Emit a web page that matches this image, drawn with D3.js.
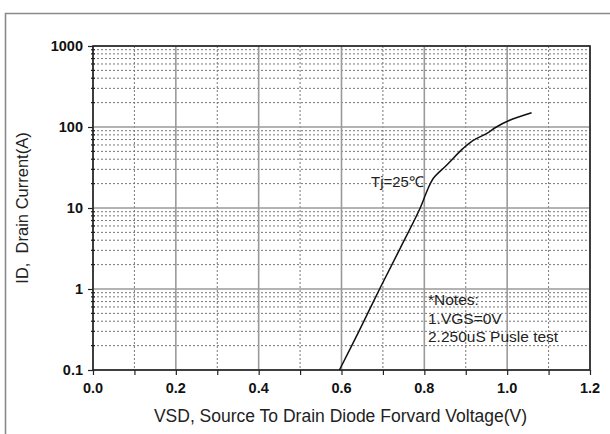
<!DOCTYPE html>
<html>
<head>
<meta charset="utf-8">
<script src="https://cdnjs.cloudflare.com/ajax/libs/d3/7.8.5/d3.min.js"></script>
<style>
	body { margin: 0; background: #fff; }
	svg { display: block; font-family: "Liberation Sans", Arial, sans-serif; }
	.major { stroke: #9a9a9a; stroke-width: 1.6; }
	.minor { stroke: #777; stroke-width: 1; stroke-dasharray: 2,2; }
	.tick { stroke: #222; stroke-width: 1.2; }
	.lbl { font-size: 14.5px; font-weight: bold; fill: #111; }
	.txt { fill: #222; white-space: pre; }
</style>
</head>
<body>
<svg id="chart" width="610" height="434"></svg>
<script>
"use strict";

/* global d3 */

// Diode forward curve, Tj = 25C
var vsd = [0.595, 0.642, 0.692, 0.742, 0.79, 0.806, 0.821, 0.853, 0.893, 0.917, 0.95, 0.974, 1.006, 1.059];
var idA = [0.1, 0.3, 1, 3.2, 10, 16, 23, 33.5, 54, 68, 83, 100, 121, 150];

var xTicks = [0, 0.2, 0.4, 0.6, 0.8, 1.0, 1.2];
var xMinor = [0.1, 0.3, 0.5, 0.7, 0.9, 1.1];
var yTicks = [0.1, 1, 10, 100, 1000];
var yTickText = ["0.1", "1", "10", "100", "1000"];

var xTitle = "VSD, Source To Drain Diode Forvard Voltage(V)";
var yTitle = "ID,  Drain Current(A)";
var curveLabel = "Tj=25\u2103";
var notes = ["*Notes:", "1.VGS=0V", "2.250uS Pusle test"];

// Plot box
var box = {l: 93, r: 590, t: 46, b: 370};

var svg = d3.select('#chart');

var x = d3.scaleLinear().domain([0, 1.2]).range([box.l, box.r]);
var y = d3.scaleLog().domain([0.1, 1000]).range([box.b, box.t]);

// minor log positions 2..9 of each decade
var yMinor = [];
yTicks.slice(0, -1).forEach(function(d) {
	for (var k = 2; k < 10; k++) yMinor.push(d * k);
});

// outer frame of the figure
svg.append('path').attr('d', 'M5.5,434 V13.5 H610').
	attr('fill', 'none').attr('stroke', '#8a8a8a').attr('stroke-width', 1.6);

var grid = svg.append('g');

grid.selectAll('.hmin').data(yMinor).enter().append('line').attr('class', 'minor').
	attr('x1', box.l).attr('x2', box.r).attr('y1', function(d) { return y(d); }).attr('y2', function(d) { return y(d); });

grid.selectAll('.vmin').data(xMinor).enter().append('line').attr('class', 'minor').
	attr('y1', box.t).attr('y2', box.b).attr('x1', function(d) { return x(d); }).attr('x2', function(d) { return x(d); });

grid.selectAll('.hmaj').data(yTicks).enter().append('line').attr('class', 'major').
	attr('x1', box.l).attr('x2', box.r).attr('y1', function(d) { return y(d); }).attr('y2', function(d) { return y(d); });

grid.selectAll('.vmaj').data(xTicks).enter().append('line').attr('class', 'major').
	attr('y1', box.t).attr('y2', box.b).attr('x1', function(d) { return x(d); }).attr('x2', function(d) { return x(d); });

// axes: ticks only, the labels are placed by hand below
var xAxis = d3.axisBottom(x).tickValues(xTicks.concat(xMinor)).tickSize(5).tickFormat('');
svg.append('g').attr('transform', 'translate(0,' + box.b + ')').call(xAxis).
	call(function(g) { g.select('.domain').remove(); g.selectAll('line').attr('class', 'tick'); });

var yAxis = d3.axisLeft(y).tickValues(yTicks).tickSize(5).tickFormat('');
svg.append('g').attr('transform', 'translate(' + box.l + ',0)').call(yAxis).
	call(function(g) { g.select('.domain').remove(); g.selectAll('line').attr('class', 'tick'); });

svg.append('g').selectAll('line').data(yMinor).enter().append('line').attr('class', 'tick').
	attr('x1', box.l - 2).attr('x2', box.l + 2).attr('y1', function(d) { return y(d); }).attr('y2', function(d) { return y(d); });

// plot border
svg.append('rect').attr('x', box.l).attr('y', box.t).attr('width', box.r - box.l).attr('height', box.b - box.t).
	attr('fill', 'none').attr('stroke', '#222').attr('stroke-width', 1.6);

// tick labels
svg.append('g').selectAll('text').data(xTicks).enter().append('text').attr('class', 'lbl').
	attr('x', function(d) { return x(d); }).attr('y', box.b + 23).attr('text-anchor', 'middle').
	text(function(d) { return d.toFixed(1); });

svg.append('g').selectAll('text').data(yTicks).enter().append('text').attr('class', 'lbl').
	attr('x', box.l - 10).attr('y', function(d) { return y(d); }).attr('dy', '0.36em').attr('text-anchor', 'end').
	text(function(d, i) { return yTickText[i]; });

// titles
svg.append('text').attr('class', 'txt').attr('x', (box.l + box.r) / 2 - 1).attr('y', 422).attr('text-anchor', 'middle').
	style('font-size', '17.5px').text(xTitle);

svg.append('text').attr('class', 'txt').attr('transform', 'translate(28,' + ((box.t + box.b) / 2) + ') rotate(-90)').
	attr('text-anchor', 'middle').style('font-size', '16.5px').text(yTitle);

// the curve
var line = d3.line().x(function(d, i) { return x(vsd[i]); }).y(function(d) { return y(d); }).
	curve(d3.curveCatmullRom.alpha(0.5));
svg.append('path').datum(idA).attr('d', line).attr('fill', 'none').attr('stroke', '#111').attr('stroke-width', 1.5);

// annotations
svg.append('text').attr('class', 'txt').attr('x', 371).attr('y', 187).style('font-size', '15px').text(curveLabel);

svg.append('g').selectAll('text').data(notes).enter().append('text').attr('class', 'txt').
	attr('x', 428).attr('y', function(d, i) { return 305 + i * 18.5; }).
	style('font-size', '15.5px').text(function(d) { return d; });
</script>
</body>
</html>
